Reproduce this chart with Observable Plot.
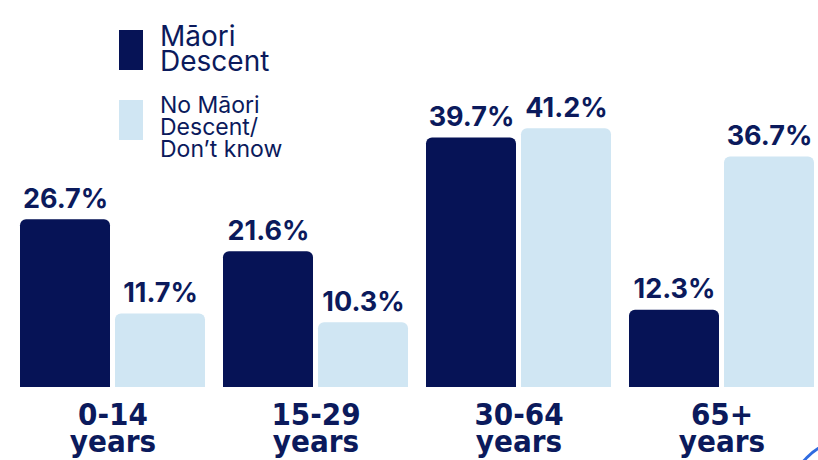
<!DOCTYPE html>
<html>
<head>
<meta charset="utf-8">
<script src="https://cdn.jsdelivr.net/npm/d3@7"></script>
<script src="https://cdn.jsdelivr.net/npm/@observablehq/plot@0.6"></script>
<style>
  html, body { margin: 0; padding: 0; background: #ffffff; overflow: hidden; }
  #wrap { position: relative; width: 818px; height: 460px; overflow: hidden; }
  #legend { position: absolute; left: 119px; top: 0; color: #0b1a5c; font-family: Inter, "Open Sans", sans-serif; }
  .sw { position: absolute; left: 0; width: 24px; height: 40px; }
  .lab { position: absolute; left: 41px; white-space: nowrap; }
  #arc { position: absolute; left: 788px; top: 438px; width: 118px; height: 118px; border: 3px solid #2f6be0; border-radius: 50%; }
</style>
</head>
<body>
<div id="wrap">
  <div id="chart"></div>
  <div id="legend"></div>
  <div id="arc"></div>
</div>
<script>
const ageGroups = ["0-14 years", "15-29 years", "30-64 years", "65+ years"];
const tickLabels = ["0-14\nyears", "15-29\nyears", "30-64\nyears", "65+\nyears"];
const series = ["Māori Descent", "No Māori Descent/Don’t know"];
const legendLabels = ["Māori<br>Descent", "No Māori<br>Descent/<br>Don’t know"];
const maoriValues = [26.7, 21.6, 39.7, 12.3];
const noMaoriValues = [11.7, 10.3, 41.2, 36.7];

const dark = "#061356";
const light = "#d0e6f3";
const navy = "#0b1a5c";

const data = [];
ageGroups.forEach((g, i) => {
  data.push({age: g, series: series[0], value: maoriValues[i]});
  data.push({age: g, series: series[1], value: noMaoriValues[i]});
});

const chart = Plot.plot({
  width: 818,
  height: 460,
  marginTop: 10,
  marginBottom: 73,
  marginLeft: 19,
  marginRight: 3,
  fx: {domain: ageGroups, paddingInner: 0.079, paddingOuter: 0, axis: null},
  x: {domain: series, paddingInner: 0.052, paddingOuter: 0, axis: null},
  y: {domain: [0, 60], axis: null},
  color: {domain: series, range: [dark, light]},
  style: {background: "#ffffff"},
  marks: [
    Plot.barY(data, {fx: "age", x: "series", y: "value", fill: "series", rx: 6, insetBottom: -12, clip: true}),
    Plot.text(data, {
      fx: "age", x: "series", y: "value",
      text: d => d.value.toFixed(1) + "%",
      lineAnchor: "bottom", dy: -12,
      fontSize: 27, fontWeight: 700, fill: navy,
      fontFamily: "Inter, 'Open Sans', sans-serif"
    }),
    Plot.text(ageGroups, {
      fx: d => d,
      text: (d, i) => tickLabels[i],
      frameAnchor: "bottom", lineAnchor: "top", dy: 18,
      fontSize: 31, fontWeight: 700, fill: navy, lineHeight: 0.88,
      fontFamily: "'Liberation Sans Narrow', 'DejaVu Sans Condensed', 'DejaVu Sans', sans-serif"
    })
  ]
});
document.getElementById("chart").appendChild(chart);

const legend = document.getElementById("legend");
const colors = [dark, light];
const swTops = [30, 100];
const labTops = [24, 94];
const labSizes = [28, 23];
const labLH = [25, 22];
series.forEach((s, i) => {
  const sw = document.createElement("div");
  sw.className = "sw";
  sw.style.top = swTops[i] + "px";
  sw.style.background = colors[i];
  legend.appendChild(sw);
  const lab = document.createElement("div");
  lab.className = "lab";
  lab.style.top = labTops[i] + "px";
  lab.style.fontSize = labSizes[i] + "px";
  lab.style.lineHeight = labLH[i] + "px";
  lab.innerHTML = legendLabels[i];
  legend.appendChild(lab);
});
</script>
</body>
</html>
